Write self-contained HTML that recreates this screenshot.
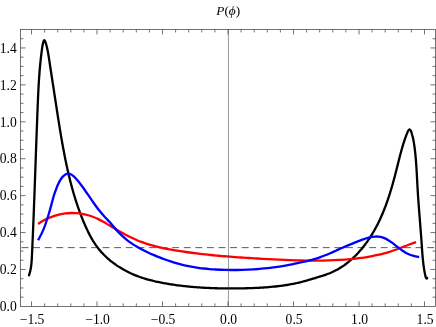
<!DOCTYPE html>
<html><head><meta charset="utf-8"><title>P(phi)</title>
<style>
html,body{margin:0;padding:0;background:#fff;}
body{width:436px;height:327px;overflow:hidden;}
svg{display:block;}
text{font-family:"Liberation Serif",serif;font-size:13.6px;fill:#000;}
.tx{will-change:transform;}
</style></head><body>
<svg width="436" height="327" viewBox="0 0 436 327">
<rect width="436" height="327" fill="#fff"/>
<path d="M20.50 247.64 H435.50" fill="none" stroke="#3d3d99" stroke-width="0.9" stroke-dasharray="6.9 4.69" stroke-dashoffset="-1.0"/>
<g fill="none" stroke-linecap="round" stroke-linejoin="round">
<path d="M29.01 275.31 C29.13 274.95 29.49 273.88 29.70 273.16 C29.90 272.44 30.09 271.71 30.26 270.98 C30.42 270.25 30.57 269.52 30.71 268.79 C30.84 268.05 30.96 267.31 31.06 266.57 C31.17 265.83 31.26 265.09 31.34 264.34 C31.42 263.59 31.49 262.85 31.55 262.10 C31.62 261.35 31.67 260.59 31.72 259.84 C31.77 259.09 31.81 258.33 31.85 257.58 C31.89 256.83 31.92 256.07 31.96 255.31 C32.00 254.56 32.03 253.80 32.06 253.05 C32.10 252.29 32.13 251.54 32.17 250.78 C32.20 250.03 32.24 249.27 32.27 248.52 C32.30 247.76 32.34 247.01 32.37 246.25 C32.41 245.50 32.44 244.74 32.47 243.98 C32.50 243.23 32.54 242.47 32.57 241.72 C32.60 240.96 32.64 240.21 32.67 239.45 C32.70 238.70 32.73 237.94 32.77 237.19 C32.80 236.43 32.83 235.68 32.86 234.92 C32.89 234.17 32.93 233.41 32.96 232.66 C32.99 231.90 33.02 231.14 33.05 230.39 C33.08 229.63 33.11 228.88 33.14 228.12 C33.18 227.37 33.21 226.61 33.24 225.86 C33.27 225.10 33.30 224.35 33.33 223.59 C33.36 222.84 33.39 222.08 33.42 221.33 C33.45 220.57 33.48 219.82 33.51 219.06 C33.54 218.31 33.57 217.55 33.60 216.80 C33.63 216.04 33.66 215.29 33.69 214.53 C33.72 213.77 33.75 213.02 33.78 212.26 C33.80 211.51 33.83 210.75 33.86 210.00 C33.89 209.24 33.92 208.49 33.95 207.73 C33.98 206.98 34.01 206.22 34.04 205.47 C34.06 204.71 34.09 203.96 34.12 203.20 C34.15 202.45 34.18 201.69 34.21 200.94 C34.23 200.18 34.26 199.43 34.29 198.67 C34.32 197.92 34.35 197.16 34.38 196.41 C34.40 195.65 34.43 194.90 34.46 194.14 C34.49 193.39 34.51 192.63 34.54 191.88 C34.57 191.12 34.60 190.37 34.62 189.61 C34.65 188.86 34.68 188.10 34.71 187.35 C34.73 186.59 34.76 185.84 34.79 185.08 C34.82 184.33 34.84 183.57 34.87 182.82 C34.90 182.07 34.93 181.31 34.95 180.56 C34.98 179.80 35.01 179.05 35.03 178.29 C35.06 177.54 35.09 176.78 35.12 176.03 C35.14 175.27 35.17 174.52 35.20 173.76 C35.22 173.01 35.25 172.25 35.28 171.50 C35.31 170.74 35.33 169.99 35.36 169.23 C35.39 168.48 35.41 167.73 35.44 166.97 C35.47 166.22 35.49 165.46 35.52 164.71 C35.55 163.95 35.57 163.20 35.60 162.44 C35.63 161.69 35.65 160.93 35.68 160.18 C35.71 159.43 35.74 158.67 35.76 157.92 C35.79 157.16 35.82 156.41 35.84 155.65 C35.87 154.90 35.90 154.14 35.92 153.39 C35.95 152.64 35.98 151.88 36.00 151.13 C36.03 150.37 36.06 149.62 36.09 148.86 C36.11 148.11 36.14 147.36 36.17 146.60 C36.19 145.85 36.22 145.09 36.25 144.34 C36.28 143.58 36.30 142.83 36.33 142.08 C36.36 141.32 36.39 140.57 36.41 139.81 C36.44 139.06 36.47 138.31 36.49 137.55 C36.52 136.80 36.55 136.04 36.58 135.29 C36.61 134.53 36.63 133.78 36.66 133.03 C36.69 132.27 36.72 131.52 36.74 130.76 C36.77 130.01 36.80 129.26 36.83 128.50 C36.86 127.75 36.88 127.00 36.91 126.24 C36.94 125.49 36.97 124.73 37.00 123.98 C37.03 123.23 37.05 122.47 37.08 121.72 C37.11 120.96 37.14 120.21 37.17 119.46 C37.20 118.70 37.23 117.95 37.25 117.20 C37.28 116.44 37.31 115.69 37.34 114.94 C37.37 114.18 37.40 113.43 37.43 112.67 C37.46 111.92 37.49 111.17 37.52 110.41 C37.55 109.66 37.58 108.91 37.61 108.15 C37.64 107.40 37.67 106.65 37.70 105.89 C37.73 105.14 37.76 104.39 37.79 103.63 C37.82 102.88 37.85 102.13 37.88 101.37 C37.91 100.62 37.94 99.87 37.97 99.11 C38.01 98.36 38.04 97.61 38.07 96.85 C38.11 96.10 38.14 95.34 38.18 94.59 C38.21 93.84 38.25 93.08 38.28 92.33 C38.32 91.58 38.36 90.82 38.39 90.07 C38.43 89.31 38.47 88.56 38.51 87.80 C38.55 87.05 38.59 86.29 38.64 85.54 C38.68 84.78 38.72 84.03 38.77 83.27 C38.81 82.52 38.86 81.76 38.91 81.01 C38.95 80.25 39.00 79.50 39.05 78.74 C39.10 77.98 39.15 77.23 39.21 76.47 C39.26 75.72 39.32 74.96 39.37 74.20 C39.43 73.44 39.49 72.69 39.55 71.93 C39.61 71.17 39.67 70.41 39.73 69.66 C39.80 68.90 39.86 68.14 39.93 67.38 C40.00 66.62 40.07 65.86 40.14 65.10 C40.21 64.34 40.29 63.58 40.36 62.82 C40.44 62.06 40.52 61.30 40.60 60.54 C40.68 59.78 40.76 59.02 40.84 58.26 C40.93 57.51 41.02 56.75 41.10 56.00 C41.19 55.25 41.28 54.50 41.37 53.77 C41.46 53.03 41.56 52.30 41.65 51.58 C41.74 50.86 41.84 50.15 41.94 49.45 C42.03 48.76 42.12 48.10 42.23 47.40 C42.34 46.70 42.44 46.04 42.59 45.26 C42.74 44.49 42.92 43.58 43.15 42.75 C43.38 41.91 43.68 40.54 44.00 40.24 C44.31 39.94 44.70 40.38 45.02 40.95 C45.35 41.53 45.68 42.84 45.94 43.67 C46.21 44.51 46.42 45.24 46.61 45.96 C46.81 46.68 46.96 47.30 47.11 47.98 C47.27 48.65 47.41 49.32 47.55 50.01 C47.69 50.70 47.82 51.41 47.95 52.14 C48.09 52.86 48.21 53.59 48.34 54.34 C48.46 55.08 48.58 55.83 48.70 56.59 C48.82 57.34 48.93 58.11 49.05 58.87 C49.17 59.63 49.28 60.40 49.40 61.17 C49.51 61.93 49.63 62.69 49.74 63.45 C49.86 64.21 49.97 64.97 50.09 65.73 C50.20 66.48 50.32 67.24 50.43 67.99 C50.55 68.75 50.66 69.50 50.78 70.25 C50.89 71.00 51.01 71.75 51.13 72.50 C51.24 73.25 51.36 74.00 51.47 74.74 C51.59 75.49 51.70 76.24 51.82 76.98 C51.93 77.73 52.05 78.47 52.16 79.22 C52.28 79.96 52.39 80.71 52.51 81.45 C52.62 82.19 52.74 82.94 52.85 83.68 C52.97 84.42 53.08 85.16 53.20 85.91 C53.31 86.65 53.43 87.39 53.54 88.13 C53.65 88.88 53.77 89.62 53.88 90.36 C54.00 91.11 54.11 91.85 54.22 92.59 C54.34 93.34 54.45 94.08 54.56 94.82 C54.68 95.57 54.79 96.31 54.90 97.06 C55.02 97.80 55.13 98.55 55.24 99.29 C55.36 100.04 55.47 100.78 55.58 101.53 C55.70 102.27 55.81 103.02 55.92 103.76 C56.04 104.51 56.15 105.26 56.27 106.00 C56.38 106.75 56.49 107.49 56.61 108.24 C56.72 108.99 56.84 109.73 56.95 110.48 C57.07 111.22 57.18 111.97 57.30 112.72 C57.41 113.46 57.53 114.21 57.64 114.96 C57.76 115.70 57.88 116.45 57.99 117.20 C58.11 117.94 58.23 118.69 58.35 119.44 C58.46 120.18 58.58 120.93 58.70 121.68 C58.82 122.42 58.94 123.17 59.06 123.92 C59.18 124.66 59.30 125.41 59.42 126.16 C59.54 126.90 59.66 127.65 59.78 128.40 C59.90 129.14 60.03 129.89 60.15 130.63 C60.27 131.38 60.40 132.13 60.52 132.87 C60.64 133.62 60.77 134.36 60.90 135.11 C61.02 135.86 61.15 136.60 61.28 137.35 C61.40 138.09 61.53 138.84 61.66 139.58 C61.79 140.33 61.92 141.07 62.05 141.82 C62.18 142.56 62.32 143.31 62.45 144.05 C62.58 144.80 62.72 145.54 62.85 146.28 C62.99 147.03 63.12 147.77 63.26 148.51 C63.40 149.26 63.54 150.00 63.68 150.74 C63.82 151.49 63.96 152.23 64.10 152.97 C64.24 153.71 64.38 154.46 64.53 155.20 C64.67 155.94 64.82 156.68 64.97 157.42 C65.11 158.16 65.26 158.90 65.41 159.64 C65.56 160.38 65.72 161.12 65.87 161.86 C66.02 162.60 66.18 163.34 66.33 164.08 C66.49 164.82 66.65 165.56 66.81 166.29 C66.97 167.03 67.13 167.77 67.29 168.51 C67.46 169.24 67.62 169.98 67.79 170.71 C67.96 171.45 68.13 172.19 68.30 172.92 C68.47 173.66 68.64 174.39 68.81 175.12 C68.99 175.86 69.16 176.59 69.34 177.32 C69.52 178.06 69.70 178.79 69.88 179.52 C70.07 180.25 70.25 180.98 70.44 181.72 C70.63 182.45 70.81 183.18 71.01 183.91 C71.20 184.64 71.39 185.36 71.59 186.09 C71.78 186.82 71.98 187.55 72.18 188.28 C72.38 189.00 72.58 189.73 72.79 190.46 C73.00 191.18 73.20 191.91 73.41 192.63 C73.62 193.35 73.84 194.08 74.05 194.80 C74.27 195.52 74.49 196.25 74.71 196.97 C74.93 197.69 75.15 198.41 75.38 199.13 C75.60 199.85 75.83 200.57 76.06 201.29 C76.29 202.01 76.53 202.72 76.77 203.44 C77.00 204.16 77.24 204.87 77.49 205.59 C77.73 206.30 77.97 207.02 78.22 207.73 C78.47 208.44 78.72 209.15 78.98 209.87 C79.24 210.58 79.49 211.29 79.75 212.00 C80.02 212.70 80.28 213.41 80.55 214.12 C80.82 214.83 81.09 215.53 81.36 216.24 C81.64 216.94 81.91 217.64 82.19 218.35 C82.47 219.05 82.76 219.75 83.05 220.45 C83.33 221.15 83.63 221.85 83.92 222.54 C84.21 223.24 84.51 223.94 84.81 224.63 C85.12 225.33 85.42 226.02 85.73 226.71 C86.04 227.40 86.35 228.09 86.67 228.78 C86.99 229.47 87.31 230.15 87.64 230.84 C87.97 231.52 88.30 232.20 88.64 232.87 C88.98 233.55 89.32 234.22 89.68 234.89 C90.03 235.56 90.38 236.23 90.75 236.89 C91.11 237.55 91.48 238.20 91.86 238.86 C92.24 239.51 92.62 240.15 93.01 240.80 C93.41 241.44 93.81 242.07 94.21 242.70 C94.62 243.33 95.04 243.96 95.46 244.58 C95.89 245.20 96.32 245.81 96.77 246.41 C97.21 247.02 97.67 247.62 98.13 248.21 C98.59 248.80 99.06 249.38 99.54 249.96 C100.02 250.54 100.51 251.11 101.01 251.67 C101.51 252.23 102.02 252.79 102.53 253.33 C103.04 253.88 103.57 254.42 104.10 254.96 C104.63 255.49 105.17 256.02 105.71 256.54 C106.26 257.06 106.82 257.57 107.38 258.08 C107.94 258.58 108.51 259.08 109.08 259.57 C109.66 260.06 110.24 260.54 110.83 261.02 C111.42 261.49 112.01 261.96 112.61 262.42 C113.22 262.88 113.82 263.33 114.44 263.78 C115.05 264.23 115.67 264.66 116.30 265.09 C116.92 265.52 117.55 265.95 118.19 266.36 C118.82 266.78 119.46 267.19 120.11 267.59 C120.76 267.99 121.41 268.38 122.06 268.76 C122.72 269.15 123.38 269.53 124.04 269.89 C124.71 270.26 125.37 270.63 126.05 270.98 C126.72 271.33 127.39 271.68 128.07 272.02 C128.75 272.35 129.44 272.68 130.12 273.01 C130.81 273.33 131.50 273.64 132.19 273.95 C132.88 274.26 133.58 274.55 134.28 274.85 C134.97 275.14 135.67 275.42 136.38 275.69 C137.08 275.97 137.78 276.24 138.49 276.50 C139.20 276.76 139.91 277.01 140.62 277.26 C141.33 277.50 142.05 277.74 142.76 277.97 C143.48 278.21 144.20 278.43 144.92 278.65 C145.64 278.87 146.36 279.08 147.08 279.29 C147.81 279.50 148.53 279.70 149.26 279.89 C149.99 280.09 150.71 280.28 151.44 280.46 C152.17 280.65 152.91 280.83 153.64 281.00 C154.37 281.18 155.10 281.35 155.84 281.51 C156.58 281.68 157.31 281.84 158.05 281.99 C158.79 282.15 159.53 282.30 160.26 282.44 C161.00 282.59 161.74 282.73 162.49 282.87 C163.23 283.01 163.97 283.15 164.71 283.28 C165.45 283.41 166.20 283.54 166.94 283.67 C167.68 283.80 168.43 283.92 169.17 284.04 C169.92 284.16 170.66 284.28 171.41 284.39 C172.15 284.50 172.90 284.62 173.64 284.72 C174.39 284.83 175.14 284.94 175.88 285.04 C176.63 285.15 177.38 285.25 178.13 285.34 C178.87 285.44 179.62 285.54 180.37 285.63 C181.12 285.72 181.87 285.81 182.62 285.90 C183.37 285.99 184.11 286.07 184.86 286.16 C185.61 286.24 186.36 286.32 187.11 286.39 C187.86 286.47 188.62 286.55 189.37 286.62 C190.12 286.69 190.87 286.76 191.62 286.83 C192.37 286.90 193.12 286.96 193.87 287.03 C194.63 287.09 195.38 287.15 196.13 287.21 C196.88 287.27 197.64 287.32 198.39 287.38 C199.14 287.43 199.90 287.48 200.65 287.53 C201.40 287.58 202.16 287.63 202.91 287.67 C203.66 287.72 204.42 287.76 205.17 287.80 C205.93 287.84 206.68 287.88 207.44 287.92 C208.19 287.95 208.95 287.99 209.70 288.02 C210.46 288.05 211.21 288.09 211.97 288.11 C212.72 288.14 213.48 288.17 214.23 288.19 C214.99 288.22 215.74 288.24 216.50 288.26 C217.26 288.29 218.01 288.30 218.77 288.32 C219.52 288.34 220.28 288.36 221.04 288.37 C221.79 288.38 222.55 288.40 223.31 288.41 C224.06 288.42 224.82 288.43 225.58 288.43 C226.33 288.44 227.09 288.44 227.85 288.45 C228.60 288.45 229.36 288.45 230.12 288.46 C230.87 288.46 231.63 288.46 232.39 288.45 C233.15 288.45 233.90 288.45 234.66 288.44 C235.42 288.44 236.17 288.43 236.93 288.42 C237.69 288.41 238.45 288.40 239.20 288.39 C239.96 288.38 240.72 288.37 241.47 288.35 C242.23 288.34 242.99 288.33 243.75 288.31 C244.50 288.29 245.26 288.28 246.02 288.26 C246.77 288.24 247.53 288.22 248.29 288.20 C249.04 288.17 249.80 288.15 250.56 288.13 C251.31 288.10 252.07 288.07 252.83 288.05 C253.58 288.02 254.34 287.99 255.10 287.96 C255.85 287.92 256.61 287.89 257.36 287.85 C258.12 287.82 258.87 287.78 259.63 287.74 C260.38 287.70 261.14 287.65 261.89 287.61 C262.65 287.56 263.40 287.52 264.15 287.47 C264.91 287.41 265.66 287.36 266.41 287.31 C267.17 287.25 267.92 287.19 268.67 287.13 C269.42 287.07 270.17 287.00 270.92 286.93 C271.67 286.87 272.42 286.80 273.17 286.72 C273.92 286.65 274.67 286.57 275.42 286.49 C276.17 286.41 276.92 286.32 277.67 286.23 C278.41 286.15 279.16 286.05 279.91 285.96 C280.65 285.86 281.40 285.76 282.14 285.66 C282.89 285.56 283.63 285.45 284.38 285.34 C285.12 285.22 285.86 285.11 286.60 284.99 C287.35 284.87 288.09 284.75 288.83 284.62 C289.57 284.49 290.31 284.35 291.05 284.22 C291.78 284.08 292.52 283.94 293.26 283.79 C294.00 283.64 294.73 283.49 295.47 283.33 C296.20 283.18 296.94 283.01 297.67 282.85 C298.40 282.68 299.14 282.51 299.87 282.33 C300.60 282.15 301.33 281.97 302.06 281.78 C302.79 281.59 303.51 281.40 304.24 281.21 C304.97 281.01 305.70 280.81 306.43 280.61 C307.15 280.40 307.88 280.19 308.61 279.98 C309.33 279.77 310.06 279.56 310.79 279.35 C311.51 279.13 312.24 278.91 312.97 278.69 C313.69 278.47 314.42 278.25 315.15 278.03 C315.88 277.81 316.61 277.58 317.34 277.36 C318.07 277.14 318.80 276.91 319.53 276.69 C320.26 276.46 321.00 276.24 321.73 276.01 C322.46 275.78 323.19 275.55 323.91 275.31 C324.64 275.07 325.36 274.83 326.08 274.58 C326.80 274.32 327.52 274.06 328.23 273.79 C328.94 273.52 329.65 273.24 330.34 272.95 C331.04 272.66 331.73 272.36 332.42 272.04 C333.11 271.73 333.79 271.41 334.46 271.07 C335.13 270.74 335.80 270.39 336.46 270.04 C337.12 269.68 337.78 269.32 338.42 268.94 C339.07 268.57 339.72 268.19 340.35 267.79 C340.99 267.40 341.62 266.99 342.24 266.58 C342.87 266.17 343.48 265.75 344.10 265.32 C344.71 264.89 345.31 264.45 345.91 264.00 C346.51 263.55 347.11 263.10 347.69 262.63 C348.28 262.17 348.86 261.70 349.44 261.22 C350.01 260.74 350.58 260.25 351.15 259.75 C351.71 259.26 352.27 258.75 352.82 258.24 C353.37 257.73 353.92 257.21 354.46 256.69 C355.00 256.17 355.53 255.63 356.06 255.10 C356.59 254.56 357.11 254.01 357.63 253.46 C358.14 252.91 358.65 252.35 359.16 251.79 C359.66 251.23 360.16 250.66 360.65 250.08 C361.15 249.51 361.63 248.93 362.12 248.34 C362.60 247.76 363.07 247.17 363.54 246.57 C364.01 245.97 364.48 245.37 364.93 244.77 C365.39 244.16 365.84 243.55 366.29 242.93 C366.74 242.32 367.18 241.70 367.61 241.08 C368.05 240.45 368.48 239.83 368.90 239.19 C369.33 238.56 369.75 237.93 370.16 237.29 C370.57 236.65 370.98 236.01 371.38 235.36 C371.78 234.72 372.18 234.07 372.57 233.42 C372.96 232.77 373.34 232.11 373.72 231.46 C374.10 230.80 374.48 230.14 374.85 229.48 C375.21 228.82 375.58 228.16 375.93 227.49 C376.29 226.82 376.64 226.16 376.99 225.49 C377.34 224.82 377.68 224.14 378.02 223.47 C378.35 222.80 378.69 222.12 379.01 221.44 C379.34 220.76 379.66 220.08 379.98 219.40 C380.30 218.72 380.61 218.03 380.92 217.35 C381.23 216.66 381.53 215.97 381.83 215.28 C382.13 214.59 382.42 213.90 382.72 213.21 C383.01 212.51 383.29 211.82 383.58 211.12 C383.86 210.42 384.14 209.73 384.41 209.02 C384.69 208.32 384.96 207.62 385.22 206.92 C385.49 206.22 385.76 205.51 386.02 204.80 C386.27 204.10 386.53 203.39 386.78 202.68 C387.04 201.97 387.29 201.26 387.53 200.55 C387.78 199.84 388.02 199.12 388.26 198.41 C388.50 197.69 388.74 196.98 388.97 196.26 C389.21 195.54 389.44 194.83 389.66 194.11 C389.89 193.39 390.12 192.67 390.34 191.94 C390.56 191.22 390.78 190.50 391.00 189.78 C391.22 189.05 391.43 188.33 391.65 187.60 C391.86 186.88 392.07 186.15 392.28 185.42 C392.49 184.69 392.69 183.97 392.90 183.24 C393.10 182.51 393.30 181.78 393.50 181.05 C393.70 180.32 393.90 179.59 394.10 178.85 C394.29 178.12 394.49 177.39 394.68 176.66 C394.88 175.92 395.07 175.19 395.26 174.46 C395.45 173.72 395.64 172.99 395.83 172.25 C396.02 171.52 396.20 170.78 396.39 170.04 C396.57 169.31 396.76 168.57 396.94 167.84 C397.13 167.10 397.31 166.36 397.50 165.63 C397.68 164.89 397.86 164.16 398.05 163.42 C398.23 162.69 398.42 161.95 398.60 161.22 C398.79 160.49 398.97 159.75 399.16 159.02 C399.34 158.29 399.53 157.56 399.72 156.83 C399.91 156.10 400.10 155.37 400.29 154.64 C400.48 153.92 400.68 153.19 400.87 152.47 C401.07 151.75 401.27 151.03 401.47 150.31 C401.67 149.59 401.87 148.87 402.07 148.15 C402.28 147.44 402.49 146.73 402.70 146.02 C402.91 145.31 403.12 144.60 403.34 143.89 C403.56 143.19 403.78 142.49 404.01 141.78 C404.24 141.08 404.48 140.37 404.72 139.66 C404.96 138.96 405.21 138.25 405.47 137.53 C405.73 136.82 405.99 136.10 406.27 135.37 C406.55 134.64 406.84 133.91 407.15 133.17 C407.45 132.43 407.72 131.56 408.11 130.93 C408.50 130.29 409.02 129.35 409.48 129.36 C409.93 129.36 410.49 130.30 410.86 130.94 C411.22 131.59 411.43 132.47 411.67 133.23 C411.92 133.99 412.14 134.74 412.34 135.49 C412.55 136.24 412.73 136.98 412.91 137.72 C413.08 138.46 413.23 139.20 413.38 139.93 C413.52 140.66 413.65 141.39 413.78 142.13 C413.90 142.86 414.02 143.59 414.13 144.32 C414.24 145.05 414.34 145.78 414.45 146.52 C414.55 147.25 414.64 147.99 414.74 148.73 C414.83 149.47 414.92 150.21 415.01 150.95 C415.09 151.69 415.17 152.43 415.25 153.17 C415.33 153.92 415.41 154.66 415.48 155.41 C415.55 156.16 415.62 156.90 415.69 157.65 C415.76 158.40 415.82 159.15 415.88 159.90 C415.94 160.65 416.00 161.40 416.06 162.16 C416.11 162.91 416.17 163.66 416.22 164.42 C416.27 165.17 416.32 165.93 416.37 166.68 C416.42 167.44 416.47 168.19 416.52 168.95 C416.56 169.71 416.61 170.46 416.65 171.22 C416.69 171.98 416.74 172.74 416.78 173.49 C416.82 174.25 416.86 175.01 416.90 175.77 C416.94 176.53 416.98 177.29 417.02 178.05 C417.06 178.81 417.10 179.57 417.14 180.32 C417.18 181.08 417.22 181.84 417.26 182.60 C417.30 183.36 417.34 184.12 417.38 184.88 C417.42 185.63 417.47 186.39 417.51 187.15 C417.55 187.91 417.60 188.66 417.64 189.42 C417.68 190.18 417.73 190.93 417.78 191.69 C417.82 192.45 417.87 193.20 417.92 193.96 C417.97 194.71 418.02 195.47 418.07 196.22 C418.12 196.98 418.17 197.73 418.23 198.48 C418.28 199.24 418.33 199.99 418.38 200.74 C418.44 201.50 418.49 202.25 418.55 203.00 C418.60 203.75 418.66 204.51 418.71 205.26 C418.77 206.01 418.83 206.76 418.88 207.51 C418.94 208.27 419.00 209.02 419.06 209.77 C419.11 210.52 419.17 211.27 419.23 212.02 C419.29 212.77 419.35 213.52 419.41 214.28 C419.47 215.03 419.53 215.78 419.59 216.53 C419.64 217.28 419.70 218.03 419.76 218.78 C419.82 219.53 419.88 220.28 419.94 221.03 C420.00 221.78 420.06 222.53 420.12 223.29 C420.18 224.04 420.24 224.79 420.30 225.54 C420.36 226.29 420.42 227.04 420.48 227.79 C420.54 228.54 420.60 229.29 420.65 230.05 C420.71 230.80 420.77 231.55 420.83 232.30 C420.89 233.05 420.94 233.80 421.00 234.56 C421.06 235.31 421.12 236.06 421.17 236.81 C421.23 237.57 421.28 238.32 421.34 239.07 C421.39 239.83 421.45 240.58 421.50 241.33 C421.55 242.09 421.61 242.84 421.66 243.60 C421.71 244.35 421.76 245.10 421.81 245.86 C421.87 246.61 421.92 247.37 421.97 248.13 C422.02 248.88 422.07 249.64 422.13 250.39 C422.18 251.15 422.24 251.90 422.29 252.66 C422.35 253.41 422.41 254.17 422.47 254.92 C422.53 255.67 422.59 256.43 422.66 257.18 C422.73 257.93 422.80 258.69 422.87 259.44 C422.95 260.19 423.02 260.94 423.11 261.69 C423.19 262.45 423.27 263.20 423.37 263.95 C423.46 264.69 423.55 265.44 423.66 266.19 C423.76 266.94 423.87 267.68 423.98 268.43 C424.10 269.17 424.22 269.92 424.34 270.66 C424.47 271.40 424.60 272.14 424.75 272.88 C424.89 273.62 425.04 274.36 425.20 275.10 C425.35 275.83 425.61 276.93 425.69 277.30" stroke="#000" stroke-width="2.3"/>
<circle cx="426.7" cy="278.1" r="1.6" fill="#000" stroke="none"/>
<path d="M38.00 223.91 C38.91 223.35 41.65 221.59 43.48 220.59 C45.31 219.59 47.13 218.70 48.96 217.90 C50.79 217.11 52.61 216.41 54.44 215.82 C56.27 215.22 58.09 214.72 59.92 214.31 C61.75 213.91 63.57 213.60 65.40 213.38 C67.23 213.16 69.05 213.03 70.88 212.99 C72.70 212.95 74.53 213.00 76.36 213.13 C78.18 213.27 80.01 213.49 81.84 213.80 C83.66 214.11 85.49 214.51 87.32 215.01 C89.14 215.50 90.97 216.09 92.80 216.77 C94.62 217.46 96.45 218.23 98.28 219.11 C100.10 219.99 101.93 221.00 103.76 222.04 C105.58 223.08 107.41 224.25 109.24 225.35 C111.06 226.44 112.89 227.55 114.72 228.61 C116.54 229.68 118.37 230.73 120.20 231.74 C122.02 232.75 123.85 233.74 125.68 234.69 C127.50 235.64 129.33 236.56 131.16 237.43 C132.98 238.30 134.81 239.14 136.63 239.93 C138.46 240.72 140.29 241.46 142.11 242.15 C143.94 242.84 145.77 243.48 147.59 244.07 C149.42 244.67 151.25 245.21 153.07 245.71 C154.90 246.22 156.73 246.68 158.55 247.11 C160.38 247.55 162.21 247.94 164.03 248.32 C165.86 248.70 167.69 249.04 169.51 249.37 C171.34 249.71 173.17 250.01 174.99 250.32 C176.82 250.62 178.65 250.91 180.47 251.19 C182.30 251.47 184.13 251.74 185.95 252.00 C187.78 252.26 189.61 252.51 191.43 252.75 C193.26 253.00 195.09 253.23 196.91 253.45 C198.74 253.68 200.56 253.89 202.39 254.10 C204.22 254.31 206.04 254.50 207.87 254.70 C209.70 254.89 211.52 255.07 213.35 255.25 C215.18 255.43 217.00 255.60 218.83 255.76 C220.66 255.93 222.48 256.09 224.31 256.24 C226.14 256.39 227.96 256.54 229.79 256.68 C231.62 256.82 233.44 256.96 235.27 257.09 C237.10 257.23 238.92 257.35 240.75 257.48 C242.58 257.60 244.40 257.72 246.23 257.84 C248.06 257.96 249.88 258.07 251.71 258.18 C253.54 258.29 255.36 258.40 257.19 258.51 C259.01 258.61 260.84 258.72 262.67 258.82 C264.49 258.92 266.32 259.02 268.15 259.12 C269.97 259.22 271.80 259.32 273.63 259.41 C275.45 259.50 277.28 259.59 279.11 259.68 C280.93 259.77 282.76 259.85 284.59 259.93 C286.41 260.00 288.24 260.08 290.07 260.14 C291.89 260.21 293.72 260.27 295.55 260.33 C297.37 260.38 299.20 260.43 301.03 260.47 C302.85 260.51 304.68 260.54 306.51 260.57 C308.33 260.59 310.16 260.61 311.99 260.61 C313.81 260.62 315.64 260.62 317.47 260.61 C319.29 260.59 321.12 260.57 322.94 260.54 C324.77 260.50 326.60 260.46 328.42 260.40 C330.25 260.34 332.08 260.28 333.90 260.19 C335.73 260.11 337.56 260.02 339.38 259.91 C341.21 259.80 343.04 259.68 344.86 259.54 C346.69 259.41 348.52 259.26 350.34 259.09 C352.17 258.92 354.00 258.74 355.82 258.54 C357.65 258.33 359.48 258.11 361.30 257.86 C363.13 257.62 364.96 257.35 366.78 257.05 C368.61 256.76 370.44 256.44 372.26 256.09 C374.09 255.73 375.92 255.35 377.74 254.94 C379.57 254.52 381.40 254.08 383.22 253.60 C385.05 253.11 386.87 252.60 388.70 252.04 C390.53 251.48 392.35 250.88 394.18 250.25 C396.01 249.61 397.83 248.93 399.66 248.24 C401.49 247.55 403.31 246.83 405.14 246.13 C406.97 245.42 408.79 244.71 410.62 244.04 C412.45 243.36 415.19 242.42 416.10 242.10" stroke="#ff0000" stroke-width="2.3" stroke-linecap="butt"/>
<path d="M38.10 240.31 C39.02 238.45 41.78 233.77 43.62 229.19 C45.46 224.60 47.31 218.80 49.15 212.77 C50.99 206.74 52.83 198.43 54.67 193.01 C56.51 187.58 58.35 183.32 60.19 180.20 C62.03 177.07 63.87 175.21 65.72 174.26 C67.56 173.32 69.40 173.66 71.24 174.52 C73.08 175.38 74.92 177.43 76.76 179.43 C78.60 181.43 80.44 184.04 82.29 186.54 C84.13 189.04 85.97 191.80 87.81 194.46 C89.65 197.11 91.49 199.90 93.33 202.48 C95.17 205.07 97.01 207.64 98.86 209.97 C100.70 212.29 102.54 214.37 104.38 216.43 C106.22 218.50 108.06 220.28 109.90 222.35 C111.74 224.43 113.58 226.82 115.42 228.88 C117.27 230.93 119.11 232.90 120.95 234.68 C122.79 236.46 124.63 238.04 126.47 239.53 C128.31 241.01 130.15 242.34 131.99 243.60 C133.84 244.85 135.68 245.98 137.52 247.05 C139.36 248.12 141.20 249.09 143.04 250.03 C144.88 250.96 146.72 251.82 148.56 252.67 C150.40 253.52 152.25 254.33 154.09 255.12 C155.93 255.91 157.77 256.67 159.61 257.40 C161.45 258.13 163.29 258.84 165.13 259.50 C166.97 260.17 168.82 260.81 170.66 261.41 C172.50 262.01 174.34 262.58 176.18 263.10 C178.02 263.63 179.86 264.12 181.70 264.57 C183.54 265.03 185.39 265.45 187.23 265.83 C189.07 266.22 190.91 266.57 192.75 266.90 C194.59 267.22 196.43 267.51 198.27 267.78 C200.11 268.04 201.95 268.28 203.80 268.49 C205.64 268.70 207.48 268.89 209.32 269.05 C211.16 269.21 213.00 269.35 214.84 269.47 C216.68 269.58 218.52 269.68 220.37 269.76 C222.21 269.83 224.05 269.89 225.89 269.93 C227.73 269.97 229.57 270.00 231.41 270.01 C233.25 270.02 235.09 270.01 236.93 269.99 C238.78 269.97 240.62 269.93 242.46 269.88 C244.30 269.82 246.14 269.75 247.98 269.67 C249.82 269.58 251.66 269.48 253.50 269.36 C255.35 269.24 257.19 269.10 259.03 268.95 C260.87 268.80 262.71 268.63 264.55 268.44 C266.39 268.25 268.23 268.05 270.07 267.83 C271.91 267.61 273.76 267.37 275.60 267.12 C277.44 266.86 279.28 266.59 281.12 266.30 C282.96 266.01 284.80 265.70 286.64 265.38 C288.48 265.05 290.33 264.71 292.17 264.35 C294.01 263.99 295.85 263.61 297.69 263.21 C299.53 262.81 301.37 262.40 303.21 261.96 C305.05 261.53 306.90 261.08 308.74 260.60 C310.58 260.12 312.42 259.62 314.26 259.07 C316.10 258.53 317.94 257.95 319.78 257.32 C321.62 256.69 323.46 256.01 325.31 255.29 C327.15 254.56 328.99 253.75 330.83 252.95 C332.67 252.14 334.51 251.28 336.35 250.45 C338.19 249.62 340.03 248.78 341.88 247.97 C343.72 247.15 345.56 246.36 347.40 245.59 C349.24 244.81 351.08 244.06 352.92 243.32 C354.76 242.58 356.60 241.85 358.44 241.14 C360.29 240.44 362.13 239.70 363.97 239.08 C365.81 238.45 367.65 237.82 369.49 237.40 C371.33 236.97 373.17 236.61 375.01 236.53 C376.86 236.44 378.70 236.50 380.54 236.89 C382.38 237.28 384.22 237.98 386.06 238.89 C387.90 239.81 389.74 241.09 391.58 242.38 C393.43 243.66 395.27 245.20 397.11 246.59 C398.95 247.98 400.79 249.50 402.63 250.73 C404.47 251.97 406.31 253.14 408.15 254.01 C409.99 254.88 411.84 255.47 413.68 255.96 C415.52 256.46 418.28 256.83 419.20 257.00" stroke="#0000ff" stroke-width="2.3" stroke-linecap="butt"/>
</g>
<path d="M228.45 29.45 V306.40" fill="none" stroke="#444" stroke-width="0.55"/>
<g fill="none" stroke="#444444" stroke-width="0.75">
<rect x="20.50" y="29.45" width="415.00" height="276.95"/>
<path d="M31.50 306.40 v-5.0 M31.50 29.45 v5.0"/>
<path d="M44.60 306.40 v-3.0 M44.60 29.45 v3.0"/>
<path d="M57.70 306.40 v-3.0 M57.70 29.45 v3.0"/>
<path d="M70.80 306.40 v-3.0 M70.80 29.45 v3.0"/>
<path d="M83.90 306.40 v-3.0 M83.90 29.45 v3.0"/>
<path d="M97.00 306.40 v-5.0 M97.00 29.45 v5.0"/>
<path d="M110.10 306.40 v-3.0 M110.10 29.45 v3.0"/>
<path d="M123.20 306.40 v-3.0 M123.20 29.45 v3.0"/>
<path d="M136.30 306.40 v-3.0 M136.30 29.45 v3.0"/>
<path d="M149.40 306.40 v-3.0 M149.40 29.45 v3.0"/>
<path d="M162.50 306.40 v-5.0 M162.50 29.45 v5.0"/>
<path d="M175.60 306.40 v-3.0 M175.60 29.45 v3.0"/>
<path d="M188.70 306.40 v-3.0 M188.70 29.45 v3.0"/>
<path d="M201.80 306.40 v-3.0 M201.80 29.45 v3.0"/>
<path d="M214.90 306.40 v-3.0 M214.90 29.45 v3.0"/>
<path d="M228.00 306.40 v-5.0 M228.00 29.45 v5.0"/>
<path d="M241.10 306.40 v-3.0 M241.10 29.45 v3.0"/>
<path d="M254.20 306.40 v-3.0 M254.20 29.45 v3.0"/>
<path d="M267.30 306.40 v-3.0 M267.30 29.45 v3.0"/>
<path d="M280.40 306.40 v-3.0 M280.40 29.45 v3.0"/>
<path d="M293.50 306.40 v-5.0 M293.50 29.45 v5.0"/>
<path d="M306.60 306.40 v-3.0 M306.60 29.45 v3.0"/>
<path d="M319.70 306.40 v-3.0 M319.70 29.45 v3.0"/>
<path d="M332.80 306.40 v-3.0 M332.80 29.45 v3.0"/>
<path d="M345.90 306.40 v-3.0 M345.90 29.45 v3.0"/>
<path d="M359.00 306.40 v-5.0 M359.00 29.45 v5.0"/>
<path d="M372.10 306.40 v-3.0 M372.10 29.45 v3.0"/>
<path d="M385.20 306.40 v-3.0 M385.20 29.45 v3.0"/>
<path d="M398.30 306.40 v-3.0 M398.30 29.45 v3.0"/>
<path d="M411.40 306.40 v-3.0 M411.40 29.45 v3.0"/>
<path d="M424.50 306.40 v-5.0 M424.50 29.45 v5.0"/>
<path d="M20.50 297.17 h3.0 M435.50 297.17 h-3.0"/>
<path d="M20.50 287.94 h3.0 M435.50 287.94 h-3.0"/>
<path d="M20.50 278.71 h3.0 M435.50 278.71 h-3.0"/>
<path d="M20.50 269.48 h5.0 M435.50 269.48 h-5.0"/>
<path d="M20.50 260.25 h3.0 M435.50 260.25 h-3.0"/>
<path d="M20.50 251.02 h3.0 M435.50 251.02 h-3.0"/>
<path d="M20.50 241.79 h3.0 M435.50 241.79 h-3.0"/>
<path d="M20.50 232.56 h5.0 M435.50 232.56 h-5.0"/>
<path d="M20.50 223.33 h3.0 M435.50 223.33 h-3.0"/>
<path d="M20.50 214.10 h3.0 M435.50 214.10 h-3.0"/>
<path d="M20.50 204.87 h3.0 M435.50 204.87 h-3.0"/>
<path d="M20.50 195.64 h5.0 M435.50 195.64 h-5.0"/>
<path d="M20.50 186.41 h3.0 M435.50 186.41 h-3.0"/>
<path d="M20.50 177.18 h3.0 M435.50 177.18 h-3.0"/>
<path d="M20.50 167.95 h3.0 M435.50 167.95 h-3.0"/>
<path d="M20.50 158.72 h5.0 M435.50 158.72 h-5.0"/>
<path d="M20.50 149.49 h3.0 M435.50 149.49 h-3.0"/>
<path d="M20.50 140.26 h3.0 M435.50 140.26 h-3.0"/>
<path d="M20.50 131.03 h3.0 M435.50 131.03 h-3.0"/>
<path d="M20.50 121.80 h5.0 M435.50 121.80 h-5.0"/>
<path d="M20.50 112.57 h3.0 M435.50 112.57 h-3.0"/>
<path d="M20.50 103.34 h3.0 M435.50 103.34 h-3.0"/>
<path d="M20.50 94.11 h3.0 M435.50 94.11 h-3.0"/>
<path d="M20.50 84.88 h5.0 M435.50 84.88 h-5.0"/>
<path d="M20.50 75.65 h3.0 M435.50 75.65 h-3.0"/>
<path d="M20.50 66.42 h3.0 M435.50 66.42 h-3.0"/>
<path d="M20.50 57.19 h3.0 M435.50 57.19 h-3.0"/>
<path d="M20.50 47.96 h5.0 M435.50 47.96 h-5.0"/>
<path d="M20.50 38.73 h3.0 M435.50 38.73 h-3.0"/>
</g>
<g class="tx">
<text x="32.10" y="323.8" text-anchor="middle">−1.5</text>
<text x="97.60" y="323.8" text-anchor="middle">−1.0</text>
<text x="163.10" y="323.8" text-anchor="middle">−0.5</text>
<text x="228.60" y="323.8" text-anchor="middle">0.0</text>
<text x="294.10" y="323.8" text-anchor="middle">0.5</text>
<text x="359.60" y="323.8" text-anchor="middle">1.0</text>
<text x="425.10" y="323.8" text-anchor="middle">1.5</text>
<text x="16.7" y="311.15" text-anchor="end">0.0</text>
<text x="16.7" y="274.23" text-anchor="end">0.2</text>
<text x="16.7" y="237.31" text-anchor="end">0.4</text>
<text x="16.7" y="200.39" text-anchor="end">0.6</text>
<text x="16.7" y="163.47" text-anchor="end">0.8</text>
<text x="16.7" y="126.55" text-anchor="end">1.0</text>
<text x="16.7" y="89.63" text-anchor="end">1.2</text>
<text x="16.7" y="52.71" text-anchor="end">1.4</text>
<text x="216.3" y="14.5" style="font-size:13.3px"><tspan font-style="italic">P</tspan>(<tspan font-style="italic">ϕ</tspan>)</text>
</g>
</svg>
</body></html>
